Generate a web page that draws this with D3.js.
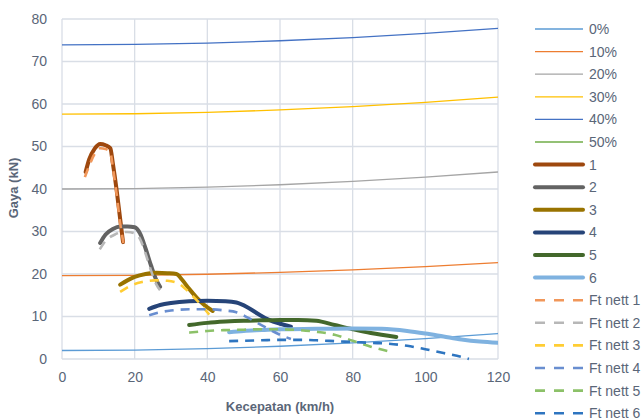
<!DOCTYPE html>
<html><head><meta charset="utf-8">
<script src="https://cdn.jsdelivr.net/npm/d3@7"></script>
<style>
html,body{margin:0;padding:0;background:#fff;}
svg text{font-family:"Liberation Sans",Arial,sans-serif;}
</style></head>
<body><svg id="c" width="644" height="420"></svg>
<script>
// Gradient (road load) series: speed grid and force values
const speedGrid = [0, 20, 40, 60, 80, 100, 120];
const grade0  = [2.0, 2.11, 2.44, 3.0, 3.78, 4.78, 6.0];
const grade10 = [19.6, 19.69, 19.94, 20.38, 20.98, 21.75, 22.7];
const grade20 = [40.0, 40.11, 40.44, 41.0, 41.78, 42.78, 44.0];
const grade30 = [57.6, 57.71, 58.04, 58.6, 59.38, 60.38, 61.6];
const grade40 = [73.9, 74.01, 74.33, 74.88, 75.63, 76.61, 77.8];
const grade50 = [88.6, 88.7, 89.0, 89.6, 90.4, 91.4, 92.6];

// Gear tractive force curves [speed, force]
const gear1 = [[6.5,44],[7.5,47],[9,49.5],[10.5,50.6],[12,50.3],[13.3,49.6],[14,46],[15,40],[16,33],[16.8,27.5]];
const gear2 = [[10.5,27.3],[12,29.3],[14,30.6],[16,31.2],[18,31.2],[20,31.0],[21.5,29.5],[23,26],[24.5,22],[26,18.5],[27,17]];
const gear3 = [[16,17.5],[18,18.5],[20,19.3],[23,20],[26,20.3],[29,20.2],[31.5,20],[33,18.7],[35,16.5],[37,14.5],[39,12.8],[41.5,11.3]];
const gear4 = [[24,11.8],[27,12.7],[30,13.2],[35,13.6],[40,13.7],[45,13.6],[48,13.3],[51,12.2],[54,10.6],[57,9.2],[60,8.3],[63,7.6]];
const gear5 = [[35,8.0],[40,8.5],[45,8.8],[50,9.0],[55,9.1],[60,9.2],[65,9.2],[70,9.0],[75,8.0],[80,7.0],[85,6.1],[92,5.2]];
const gear6 = [[46,6.3],[50,6.6],[55,6.8],[60,7.0],[70,7.1],[80,7.2],[88,7.1],[95,6.6],[100,6.0],[105,5.3],[110,4.6],[115,4.1],[120,3.8]];

// Net tractive force curves
const nett1 = [[6.3,42.8],[7.5,45.5],[9,48.3],[10.5,49.6],[12,49.4],[13.3,48.6],[14,45],[15,39],[16,32],[16.9,27.3]];
const nett2 = [[10.4,25.8],[12,27.8],[14.6,29.3],[16,29.8],[18,29.9],[20,29.6],[21.5,28.2],[23,24.8],[24.5,20.8],[26,17.5],[27.4,15.8]];
const nett3 = [[16,15.8],[19,17.3],[22,18.1],[25.5,18.5],[29,18.4],[32,17.8],[34,16.5],[36,14.8],[38,13],[40,11],[41.7,9.3]];
const nett4 = [[24,10.3],[27,11.0],[30,11.4],[35,11.7],[40,11.7],[45,11.4],[48,11],[51,9.8],[54,8.4],[57,7],[60,5.7],[63,4.7]];
const nett5 = [[35,6.2],[40,6.6],[45,6.8],[50,6.9],[55,7.0],[60,7.0],[65,6.8],[70,6.4],[75,5.7],[80,4.3],[85,2.9],[91,1.6]];
const nett6 = [[46,4.2],[50,4.3],[55,4.4],[60,4.5],[65,4.5],[70,4.4],[75,4.2],[80,4.0],[85,3.8],[90,3.6],[95,3.1],[100,2.3],[105,1.4],[110,0.5],[112,0]];

const xTicks = [0, 20, 40, 60, 80, 100, 120];
const yTicks = [0, 10, 20, 30, 40, 50, 60, 70, 80];

const gradeNames = ["0%","10%","20%","30%","40%","50%"];
const gradeVals = [grade0, grade10, grade20, grade30, grade40, grade50];
const gradeColors = ["#5B9BD5","#ED7D31","#A5A5A5","#FFC000","#4472C4","#70AD47"];
const gearNames = ["1","2","3","4","5","6"];
const gearVals = [gear1, gear2, gear3, gear4, gear5, gear6];
const gearColors = ["#9E480E","#636363","#997300","#264478","#43682B","#7FB2E0"];
const nettNames = ["Ft nett 1","Ft nett 2","Ft nett 3","Ft nett 4","Ft nett 5","Ft nett 6"];
const nettVals = [nett1, nett2, nett3, nett4, nett5, nett6];
const nettColors = ["#F1975A","#B7B7B7","#FFCD33","#698ED0","#8CC168","#2E75C0"];

const svg = d3.select("#c");
const L = 62, R = 498, T = 19, B = 359;
const x = d3.scaleLinear().domain([0,120]).range([L,R]);
const y = d3.scaleLinear().domain([0,80]).range([B,T]);
const textCol = "#5A6678";

// grid
const g = svg.append("g");
g.selectAll(".hg").data(yTicks).join("line")
  .attr("x1",L).attr("x2",R).attr("y1",d=>y(d)).attr("y2",d=>y(d))
  .attr("stroke","#D9DEE6").attr("stroke-width",1.3);
g.selectAll(".vg").data(xTicks).join("line")
  .attr("y1",T).attr("y2",B).attr("x1",d=>x(d)).attr("x2",d=>x(d))
  .attr("stroke","#D9DEE6").attr("stroke-width",1.3);

// axes labels via d3 axes
const xAxis = svg.append("g").attr("transform",`translate(0,${B})`)
  .call(d3.axisBottom(x).tickValues(xTicks).tickSize(0).tickPadding(13));
const yAxis = svg.append("g").attr("transform",`translate(${L},0)`)
  .call(d3.axisLeft(y).tickValues(yTicks).tickSize(0).tickPadding(15));
[xAxis,yAxis].forEach(a=>{
  a.select(".domain").remove();
  a.selectAll("text").attr("fill",textCol).style("font-size","14px")
   .style("font-family","'Liberation Sans',Arial,sans-serif");
});

svg.append("text").attr("x",280).attr("y",411).attr("text-anchor","middle")
  .attr("fill",textCol).style("font-size","13px").style("font-weight","bold")
  .text("Kecepatan (km/h)");
svg.append("text").attr("transform","translate(18,188) rotate(-90)").attr("text-anchor","middle")
  .attr("fill",textCol).style("font-size","13px").style("font-weight","bold")
  .text("Gaya (kN)");

svg.append("clipPath").attr("id","clip").append("rect")
  .attr("x",L).attr("y",T).attr("width",R-L).attr("height",B-T+2);
const plot = svg.append("g").attr("clip-path","url(#clip)");

const line = d3.line().x(d=>x(d[0])).y(d=>y(d[1])).curve(d3.curveMonotoneX);

gradeVals.forEach((vals,i)=>{
  plot.append("path").datum(speedGrid.map((s,j)=>[s,vals[j]]))
    .attr("d",line).attr("fill","none").attr("stroke",gradeColors[i]).attr("stroke-width",1.3);
});
gearVals.forEach((vals,i)=>{
  plot.append("path").datum(vals).attr("d",line).attr("fill","none")
    .attr("stroke",gearColors[i]).attr("stroke-width",4).attr("stroke-linejoin","round").attr("stroke-linecap","round");
});
nettVals.forEach((vals,i)=>{
  plot.append("path").datum(vals).attr("d",line).attr("fill","none")
    .attr("stroke",nettColors[i]).attr("stroke-width",2.6).attr("stroke-dasharray","9,7");
});

// legend
const legendItems = [];
gradeNames.forEach((n,i)=>legendItems.push({n,c:gradeColors[i],w:1.3,dash:null}));
gearNames.forEach((n,i)=>legendItems.push({n,c:gearColors[i],w:4,dash:null}));
nettNames.forEach((n,i)=>legendItems.push({n,c:nettColors[i],w:2.6,dash:"10,9"}));
const lg = svg.append("g");
legendItems.forEach((it,i)=>{
  const yy = 29 + i*22.6;
  lg.append("line").attr("x1",535).attr("x2",583).attr("y1",yy).attr("y2",yy)
    .attr("stroke",it.c).attr("stroke-width",it.w)
    .attr("stroke-linecap",it.w>3?"round":"butt")
    .attr("stroke-dasharray",it.dash);
  lg.append("text").attr("x",589).attr("y",yy+5).attr("fill",textCol)
    .style("font-size","14px").text(it.n);
});
</script></body></html>
